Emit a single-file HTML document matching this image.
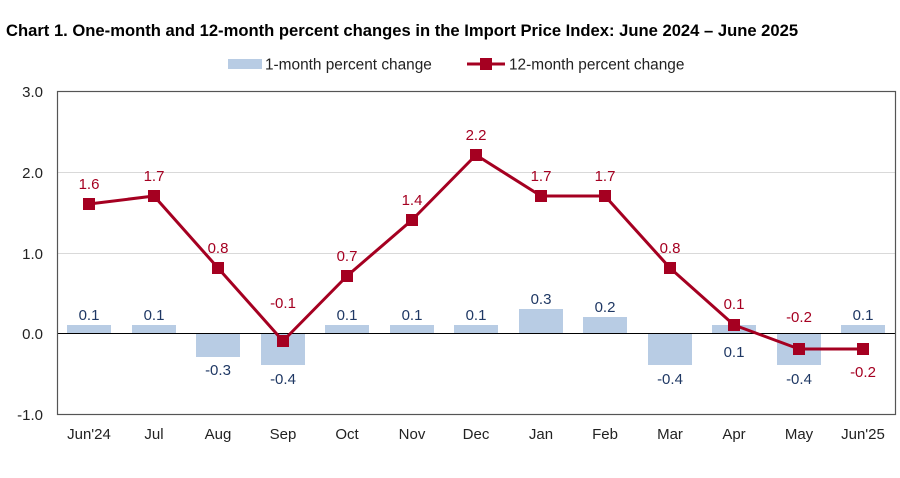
<!DOCTYPE html>
<html><head><meta charset="utf-8"><style>
body{margin:0;background:#fff;}
svg{display:block;font-family:"Liberation Sans",Arial,sans-serif;}
</style></head><body>
<svg width="900" height="478" viewBox="0 0 900 478" xmlns="http://www.w3.org/2000/svg">
<text x="6" y="36" font-size="16.6" font-weight="bold" fill="#000">Chart 1. One-month and 12-month percent changes in the Import Price Index: June 2024 – June 2025</text>
<rect x="228" y="59" width="34" height="10" fill="#b8cce4"/>
<text x="265" y="69.5" font-size="15.4" fill="#222">1-month percent change</text>
<line x1="467" y1="64" x2="505" y2="64" stroke="#a50021" stroke-width="3"/>
<rect x="480" y="58" width="12" height="12" fill="#a50021"/>
<text x="509" y="69.5" font-size="15.4" fill="#222">12-month percent change</text>
<g stroke="#d9d9d9" stroke-width="1">
<line x1="57" y1="172.5" x2="896" y2="172.5"/>
<line x1="57" y1="253.5" x2="896" y2="253.5"/>
</g>
<g font-size="15" fill="#222" text-anchor="end">
<text x="43" y="97">3.0</text><text x="43" y="178">2.0</text><text x="43" y="259">1.0</text><text x="43" y="339">0.0</text><text x="43" y="420">-1.0</text>
</g>
<g fill="#b8cce4">
<rect x="67" y="325" width="44" height="8"/>
<rect x="132" y="325" width="44" height="8"/>
<rect x="196" y="333" width="44" height="24"/>
<rect x="261" y="333" width="44" height="32"/>
<rect x="325" y="325" width="44" height="8"/>
<rect x="390" y="325" width="44" height="8"/>
<rect x="454" y="325" width="44" height="8"/>
<rect x="519" y="309" width="44" height="24"/>
<rect x="583" y="317" width="44" height="16"/>
<rect x="648" y="333" width="44" height="32"/>
<rect x="712" y="325" width="44" height="8"/>
<rect x="777" y="333" width="44" height="32"/>
<rect x="841" y="325" width="44" height="8"/>
</g>
<line x1="57" y1="333.5" x2="896" y2="333.5" stroke="#000" stroke-width="1"/>
<rect x="57.5" y="91.5" width="838" height="323" fill="none" stroke="#555" stroke-width="1.2"/>
<g font-size="15" fill="#1f3864" text-anchor="middle">
<text x="89" y="320">0.1</text><text x="154" y="320">0.1</text><text x="218" y="375">-0.3</text><text x="283" y="384">-0.4</text>
<text x="347" y="320">0.1</text><text x="412" y="320">0.1</text><text x="476" y="320">0.1</text><text x="541" y="304">0.3</text>
<text x="605" y="312">0.2</text><text x="670" y="384">-0.4</text><text x="734" y="357">0.1</text><text x="799" y="384">-0.4</text><text x="863" y="320">0.1</text>
</g>
<polyline fill="none" stroke="#a50021" stroke-width="3" stroke-linejoin="round" points="89,204 154,196 218,268 283,341 347,276 412,220 476,155 541,196 605,196 670,268 734,325 799,349 863,349"/>
<g fill="#a50021">
<rect x="83" y="198" width="12" height="12"/><rect x="148" y="190" width="12" height="12"/><rect x="212" y="262" width="12" height="12"/>
<rect x="277" y="335" width="12" height="12"/><rect x="341" y="270" width="12" height="12"/><rect x="406" y="214" width="12" height="12"/>
<rect x="470" y="149" width="12" height="12"/><rect x="535" y="190" width="12" height="12"/><rect x="599" y="190" width="12" height="12"/>
<rect x="664" y="262" width="12" height="12"/><rect x="728" y="319" width="12" height="12"/><rect x="793" y="343" width="12" height="12"/>
<rect x="857" y="343" width="12" height="12"/>
</g>
<g font-size="15" fill="#a50021" text-anchor="middle">
<text x="89" y="189">1.6</text><text x="154" y="181">1.7</text><text x="218" y="253">0.8</text><text x="283" y="308">-0.1</text>
<text x="347" y="261">0.7</text><text x="412" y="205">1.4</text><text x="476" y="140">2.2</text><text x="541" y="181">1.7</text>
<text x="605" y="181">1.7</text><text x="670" y="253">0.8</text><text x="734" y="309">0.1</text><text x="799" y="322">-0.2</text><text x="863" y="377">-0.2</text>
</g>
<g font-size="15" fill="#222" text-anchor="middle">
<text x="89" y="439">Jun'24</text><text x="154" y="439">Jul</text><text x="218" y="439">Aug</text><text x="283" y="439">Sep</text>
<text x="347" y="439">Oct</text><text x="412" y="439">Nov</text><text x="476" y="439">Dec</text><text x="541" y="439">Jan</text>
<text x="605" y="439">Feb</text><text x="670" y="439">Mar</text><text x="734" y="439">Apr</text><text x="799" y="439">May</text><text x="863" y="439">Jun'25</text>
</g>
</svg>
</body></html>
